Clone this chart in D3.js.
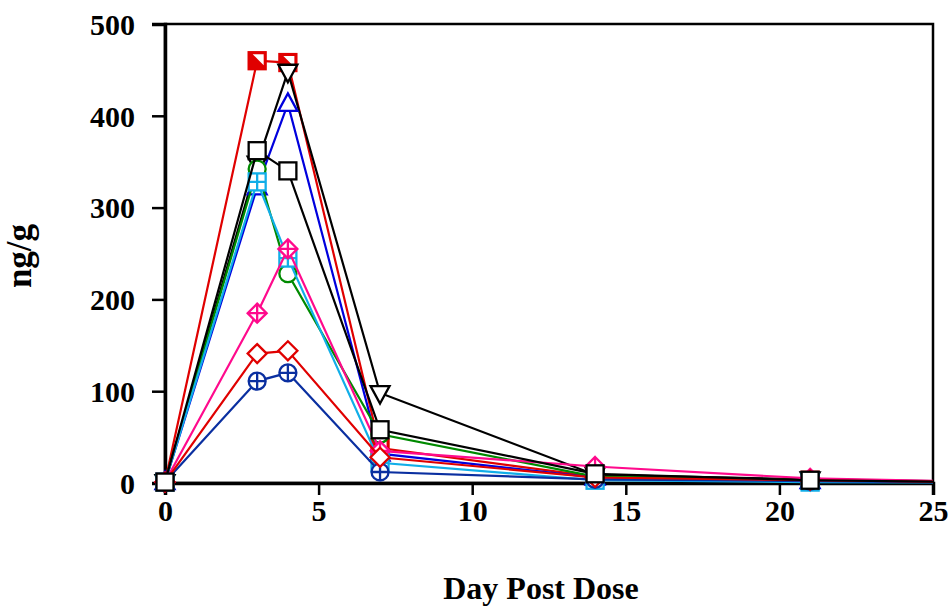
<!DOCTYPE html>
<html>
<head>
<meta charset="utf-8">
<script src="https://cdn.jsdelivr.net/npm/d3@7"></script>
<style>
  body { margin: 0; background: #fff; }
  svg text { font-family: "Times New Roman", "Liberation Serif", serif; font-weight: bold; }
</style>
</head>
<body>
<div id="chart"></div>
<script>
const W = 952, H = 607;
const margin = { top: 24, right: 19, bottom: 124, left: 165 };

const days = [0, 3, 4, 7, 14, 21, 28];
const xTicks = [0, 5, 10, 15, 20, 25];
const yTicks = [0, 100, 200, 300, 400, 500];

// drawn in this order (last on top)
const redSquare    = [1, 460, 458, 38, 7, 3, 0.5];
const blackTriDown = [1, 348, 448, 98, 9, 4, 0.5];
const blueTri      = [1, 322, 413, 32, 6, 2, 0.5];
const greenCircle  = [1, 342, 228, 53, 7, 3, 0.5];
const cyanSquare   = [1, 328, 245, 22, 3, 1, 0.3];
const pinkDiamond  = [1, 185, 255, 35, 18, 5, 0.5];
const navyCircle   = [1, 111, 120, 12, 4, 2, 0.3];
const redDiamond   = [1, 141, 144, 28, 6, 3, 0.5];
const blackSquare  = [1, 362, 340, 58, 10, 3, 0.5];

const series = [
  { values: redSquare,    color: '#e00000', shape: 'halfsquare' },
  { values: blackTriDown, color: '#000000', shape: 'tridown' },
  { values: blueTri,      color: '#0000dd', shape: 'triup' },
  { values: greenCircle,  color: '#008a00', shape: 'circle' },
  { values: cyanSquare,   color: '#11aee8', shape: 'squareplus' },
  { values: pinkDiamond,  color: '#ff0a8c', shape: 'diamondplus' },
  { values: navyCircle,   color: '#0a2fa0', shape: 'circleplus' },
  { values: redDiamond,   color: '#e00000', shape: 'diamond' },
  { values: blackSquare,  color: '#000000', shape: 'square' }
];

const svg = d3.select('#chart').append('svg')
  .attr('width', W).attr('height', H);

const x = d3.scaleLinear().domain([0, 25]).range([margin.left, W - margin.right]);
const y = d3.scaleLinear().domain([0, 500]).range([H - margin.bottom, margin.top]);

svg.append('defs').append('clipPath').attr('id', 'plot')
  .append('rect')
  .attr('x', margin.left - 12).attr('y', margin.top - 12)
  .attr('width', x(25) - margin.left + 12).attr('height', y(0) - margin.top + 24);

// frame
svg.append('rect')
  .attr('x', x(0)).attr('y', y(500))
  .attr('width', x(25) - x(0)).attr('height', y(0) - y(500))
  .attr('fill', 'none').attr('stroke', '#000').attr('stroke-width', 2.5);

// axes
const xAxis = svg.append('g')
  .attr('transform', `translate(0,${y(0)})`)
  .call(d3.axisBottom(x).tickValues(xTicks).tickSize(12).tickPadding(5).tickFormat(d3.format('d')));
const yAxis = svg.append('g')
  .attr('transform', `translate(${x(0)},0)`)
  .call(d3.axisLeft(y).tickValues(yTicks).tickSize(13).tickPadding(17).tickFormat(d3.format('d')));
[xAxis, yAxis].forEach(a => {
  a.select('.domain').attr('stroke-width', 3.5);
  a.selectAll('.tick line').attr('stroke-width', 2.5);
  a.selectAll('.tick text')
    .attr('font-size', 30)
    .attr('font-family', '"Times New Roman", "Liberation Serif", serif')
    .attr('font-weight', 'bold')
    .attr('fill', '#000');
});
yAxis.selectAll('.tick text').attr('dy', '0.34em');

svg.append('text')
  .attr('x', 541).attr('y', 599)
  .attr('text-anchor', 'middle').attr('font-size', 32)
  .text('Day Post Dose');
svg.append('text')
  .attr('transform', 'translate(31,256) rotate(-90)')
  .attr('text-anchor', 'middle').attr('font-size', 35)
  .text('ng/g');

const line = d3.line().x((d, i) => x(days[i])).y(d => y(d));
const plot = svg.append('g').attr('clip-path', 'url(#plot)');

function drawMarker (g, shape, color) {
  const sw = 2.3;
  const s = 8.5;
  if (shape === 'square' || shape === 'squareplus' || shape === 'halfsquare') {
    g.append('rect').attr('x', -s).attr('y', -s).attr('width', 2 * s).attr('height', 2 * s)
      .attr('fill', shape === 'halfsquare' ? color : '#fff')
      .attr('stroke', color).attr('stroke-width', sw);
    if (shape === 'halfsquare') {
      g.append('path').attr('d', `M${-s + 4},${-s + 2}L${s - 2},${-s + 2}L${s - 2},${s - 4}Z`)
        .attr('fill', '#fff');
    }
    if (shape === 'squareplus') {
      g.append('path').attr('d', `M${-s},0H${s}M0,${-s}V${s}`)
        .attr('stroke', color).attr('stroke-width', sw);
    }
  } else if (shape === 'circle' || shape === 'circleplus') {
    g.append('circle').attr('r', s).attr('fill', '#fff')
      .attr('stroke', color).attr('stroke-width', sw);
    if (shape === 'circleplus') {
      g.append('path').attr('d', `M${-s},0H${s}M0,${-s}V${s}`)
        .attr('stroke', color).attr('stroke-width', sw);
    }
  } else if (shape === 'diamond' || shape === 'diamondplus') {
    const r = 9.5;
    g.append('path').attr('d', `M0,${-r}L${r},0L0,${r}L${-r},0Z`)
      .attr('fill', '#fff').attr('stroke', color).attr('stroke-width', sw);
    if (shape === 'diamondplus') {
      g.append('path').attr('d', `M${-r},0H${r}M0,${-r}V${r}`)
        .attr('stroke', color).attr('stroke-width', sw);
    }
  } else if (shape === 'triup') {
    g.append('path').attr('d', 'M0,-10.5L9.5,7L-9.5,7Z')
      .attr('fill', '#fff').attr('stroke', color).attr('stroke-width', sw);
  } else if (shape === 'tridown') {
    g.append('path').attr('d', 'M0,10.5L9.5,-7L-9.5,-7Z')
      .attr('fill', '#fff').attr('stroke', color).attr('stroke-width', sw);
  }
}

series.forEach(s => {
  const g = plot.append('g');
  g.append('path')
    .attr('d', line(s.values))
    .attr('fill', 'none')
    .attr('stroke', s.color)
    .attr('stroke-width', 2.2);
  s.values.forEach((v, i) => {
    if (days[i] > 25) return;
    const m = g.append('g').attr('transform', `translate(${x(days[i])},${y(v)})`);
    drawMarker(m, s.shape, s.color);
  });
});
</script>
</body>
</html>
